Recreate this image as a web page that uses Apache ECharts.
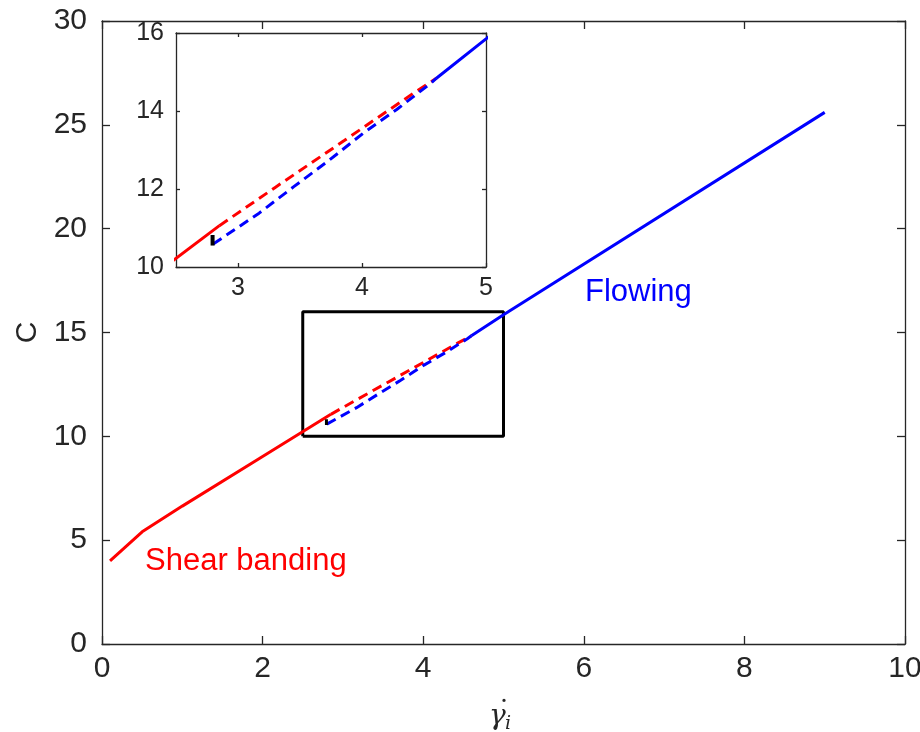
<!DOCTYPE html>
<html>
<head>
<meta charset="utf-8">
<script src="https://cdn.jsdelivr.net/npm/echarts@6/dist/echarts.min.js"></script>
<style>
  html, body { margin: 0; padding: 0; background: #fff; }
  #container { width: 920px; height: 732px; }
</style>
</head>
<body>
<div id="container"></div>
<script>
var dom = document.getElementById("container");
var myChart = echarts.init(dom);

// shear banding branch (solid) and its unstable continuation (dashed)
var bandingSolid = [[0.1, 4.0], [0.5, 5.4], [1.0, 6.64], [2.0, 9.03], [2.85, 11.06]];
var bandingDashed = [[2.85, 11.06], [3.3, 12.04], [3.86, 13.25], [4.44, 14.51], [4.6, 14.84]];
// flowing branch (dashed then solid)
var flowingDashed = [[2.8, 10.59], [3.17, 11.38], [3.45, 12.06], [3.72, 12.70], [4.01, 13.43], [4.28, 14.04], [4.55, 14.70], [4.6, 14.84]];
var flowingSolid = [[4.6, 14.84], [5.0, 15.85], [9.0, 25.6]];
// small black marker at the flowing branch onset
var onsetMark = [[2.795, 10.82], [2.795, 10.55]];
// zoom window drawn on the main plot
var zoomBox = [[2.5, 10], [5, 10], [5, 16], [2.5, 16], [2.5, 10]];

var xTicks = [0, 2, 4, 6, 8, 10];
var yTicks = [0, 5, 10, 15, 20, 25, 30];
var insetXTicks = [3, 4, 5];

var axisColor = '#262626';
var font = '"Liberation Sans", Arial, Helvetica, sans-serif';
var serif = '"DejaVu Serif", "Liberation Serif", serif';

function mainAxis(extra) {
    var base = {
        type: 'value',
        axisLine: { show: true, onZero: false, lineStyle: { color: axisColor, width: 1.3 } },
        axisTick: { show: true, inside: true, length: 8, lineStyle: { color: axisColor, width: 1.3 } },
        splitLine: { show: false }
    };
    return Object.assign(base, extra);
}

function lineSeries(data, color, dashed, xi, yi, width) {
    return {
        type: 'line',
        data: data,
        xAxisIndex: xi,
        yAxisIndex: yi,
        showSymbol: false,
        symbol: 'none',
        silent: true,
        animation: false,
        lineStyle: { color: color, width: width || 3, type: dashed ? [10, 6] : 'solid', cap: 'butt' },
        z: 3
    };
}

option = {
    animation: false,
    backgroundColor: '#fff',
    grid: [
        { left: 102, right: 15, top: 21, bottom: 88, containLabel: false, outerBoundsMode: 'none' },
        { left: 176, top: 33, width: 310, height: 234, show: true, backgroundColor: '#fff', borderWidth: 0, z: 5,
          containLabel: false, outerBoundsMode: 'none' }
    ],
    xAxis: [
        mainAxis({ gridIndex: 0, min: 0, max: 10, interval: 2, position: 'bottom',
            axisLabel: { show: true, color: axisColor, fontSize: 30, fontFamily: font, margin: 10 } }),
        mainAxis({ gridIndex: 0, min: 0, max: 10, interval: 2, position: 'top',
            axisLabel: { show: false } }),
        mainAxis({ gridIndex: 1, min: 2.5, max: 5, position: 'bottom', z: 6,
            axisTick: { show: true, inside: true, length: 4, customValues: insetXTicks, lineStyle: { color: axisColor, width: 1.3 } },
            axisLabel: { show: true, color: axisColor, fontSize: 25, fontFamily: font, margin: 9, customValues: insetXTicks } }),
        mainAxis({ gridIndex: 1, min: 2.5, max: 5, position: 'top', z: 6,
            axisTick: { show: true, inside: true, length: 4, customValues: insetXTicks, lineStyle: { color: axisColor, width: 1.3 } },
            axisLabel: { show: false } })
    ],
    yAxis: [
        mainAxis({ gridIndex: 0, min: 0, max: 30, interval: 5, position: 'left',
            name: 'C', nameLocation: 'middle', nameGap: 58,
            nameTextStyle: { color: axisColor, fontSize: 30, fontFamily: font },
            axisLabel: { show: true, color: axisColor, fontSize: 30, fontFamily: font, margin: 15 } }),
        mainAxis({ gridIndex: 0, min: 0, max: 30, interval: 5, position: 'right',
            axisLabel: { show: false } }),
        mainAxis({ gridIndex: 1, min: 10, max: 16, interval: 2, position: 'left', z: 6,
            axisTick: { show: true, inside: true, length: 4, lineStyle: { color: axisColor, width: 1.3 } },
            axisLabel: { show: true, color: axisColor, fontSize: 25, fontFamily: font, margin: 12 } }),
        mainAxis({ gridIndex: 1, min: 10, max: 16, interval: 2, position: 'right', z: 6,
            axisTick: { show: true, inside: true, length: 4, lineStyle: { color: axisColor, width: 1.3 } },
            axisLabel: { show: false } })
    ],
    graphic: [
        { type: 'text', left: 145, top: 546, style: { text: 'Shear banding', fill: '#ff0000', fontSize: 31, fontFamily: font } },
        { type: 'text', left: 585, top: 277, style: { text: 'Flowing', fill: '#0000ff', fontSize: 31, fontFamily: font } },
        { type: 'text', left: 489, top: 703, style: { text: 'γ', fill: axisColor, fontSize: 28, fontStyle: 'italic', fontFamily: serif } },
        { type: 'text', left: 497, top: 699, style: { text: '˙', fill: axisColor, fontSize: 28, fontFamily: serif } },
        { type: 'text', left: 505, top: 715, style: { text: 'i', fill: axisColor, fontSize: 19, fontStyle: 'italic', fontFamily: serif } }
    ],
    series: [
        lineSeries(zoomBox, '#000000', false, 0, 0, 3),
        lineSeries(bandingSolid, '#ff0000', false, 0, 0),
        lineSeries(bandingDashed, '#ff0000', true, 0, 0),
        lineSeries(flowingDashed, '#0000ff', true, 0, 0),
        lineSeries(flowingSolid, '#0000ff', false, 0, 0),
        lineSeries(onsetMark, '#000000', false, 0, 0, 3),
        Object.assign(lineSeries(bandingSolid, '#ff0000', false, 2, 2), { clip: true, z: 7 }),
        Object.assign(lineSeries(bandingDashed, '#ff0000', true, 2, 2), { clip: true, z: 7 }),
        Object.assign(lineSeries(flowingDashed, '#0000ff', true, 2, 2), { clip: true, z: 7 }),
        Object.assign(lineSeries(flowingSolid, '#0000ff', false, 2, 2), { clip: true, z: 7 }),
        Object.assign(lineSeries(onsetMark, '#000000', false, 2, 2, 4), { clip: true, z: 7 })
    ]
};

if (option && typeof option === "object") {
    myChart.setOption(option, true);
}
</script>
</body>
</html>
